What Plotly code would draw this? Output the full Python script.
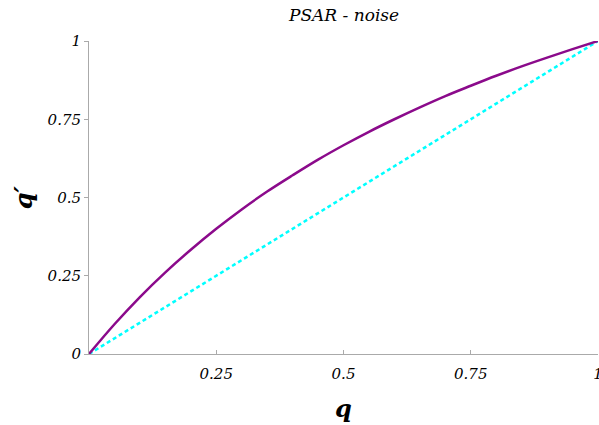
import plotly.graph_objects as go

# Data
q_vals = [0.0, 0.05, 0.10, 0.15, 0.20, 0.25, 0.30, 0.35, 0.40, 0.45, 0.50,
          0.55, 0.60, 0.65, 0.70, 0.75, 0.80, 0.85, 0.90, 0.95, 1.0]
qprime_psar = [0.0, 0.095, 0.182, 0.261, 0.333, 0.400, 0.462, 0.519, 0.571, 0.621, 0.667,
               0.710, 0.750, 0.788, 0.824, 0.857, 0.889, 0.919, 0.947, 0.974, 1.0]
diag_x = [0.0, 1.0]
diag_y = [0.0, 1.0]

x_tick_vals = [0.25, 0.5, 0.75, 1]
x_tick_text = ["0.25", "0.5", "0.75", "1"]
y_tick_vals = [0, 0.25, 0.5, 0.75, 1]
y_tick_text = ["0", "0.25", "0.5", "0.75", "1"]

serif = "DejaVu Serif, Liberation Serif, serif"

fig = go.Figure()
fig.add_trace(go.Scatter(x=diag_x, y=diag_y, mode="lines",
                         line=dict(color="#00FFFF", width=2.5, dash="4px,3px"),
                         showlegend=False, hoverinfo="skip"))
fig.add_trace(go.Scatter(x=q_vals, y=qprime_psar, mode="lines",
                         line=dict(color="#8B0A8B", width=2.5, shape="spline"),
                         showlegend=False, hoverinfo="skip"))

fig.update_layout(
    width=599, height=425,
    margin=dict(l=89, r=1, t=41, b=71, autoexpand=False),
    paper_bgcolor="white", plot_bgcolor="white",
    font=dict(family=serif, color="black"),
    xaxis=dict(range=[0, 1], tickvals=x_tick_vals, ticktext=x_tick_text, automargin=False,
               showgrid=False, zeroline=False, showline=True, linecolor="#aaaaaa",
               linewidth=1, ticks="inside", ticklen=4, tickcolor="#aaaaaa",
               ticklabeloverflow="allow",
               tickfont=dict(family=serif, size=15, style="italic"), ticklabelstandoff=6),
    yaxis=dict(range=[0, 1], tickvals=y_tick_vals, ticktext=y_tick_text, automargin=False,
               showgrid=False, zeroline=False, showline=True, linecolor="#aaaaaa",
               linewidth=1, ticks="outside", ticklen=4, tickcolor="#aaaaaa",
               ticklabeloverflow="allow",
               tickfont=dict(family=serif, size=15, style="italic")),
    annotations=[
        dict(text="PSAR - noise", xref="paper", yref="paper", x=0.5, y=1.083,
             xanchor="center", yanchor="middle", showarrow=False,
             font=dict(family=serif, size=17, style="italic")),
        dict(text="<b>q</b>", xref="paper", yref="paper", x=0.5, y=-0.175,
             xanchor="center", yanchor="middle", showarrow=False,
             font=dict(family=serif, size=24, style="italic")),
        dict(text="<b>q′</b>", xref="paper", yref="paper", x=-0.128, y=0.5,
             xanchor="center", yanchor="middle", showarrow=False, textangle=-90,
             font=dict(family=serif, size=24, style="italic")),
    ],
)

fig.write_html("out.html", config={"displayModeBar": False},
               post_script="document.body.style.margin='0';document.body.style.overflow='hidden';")
